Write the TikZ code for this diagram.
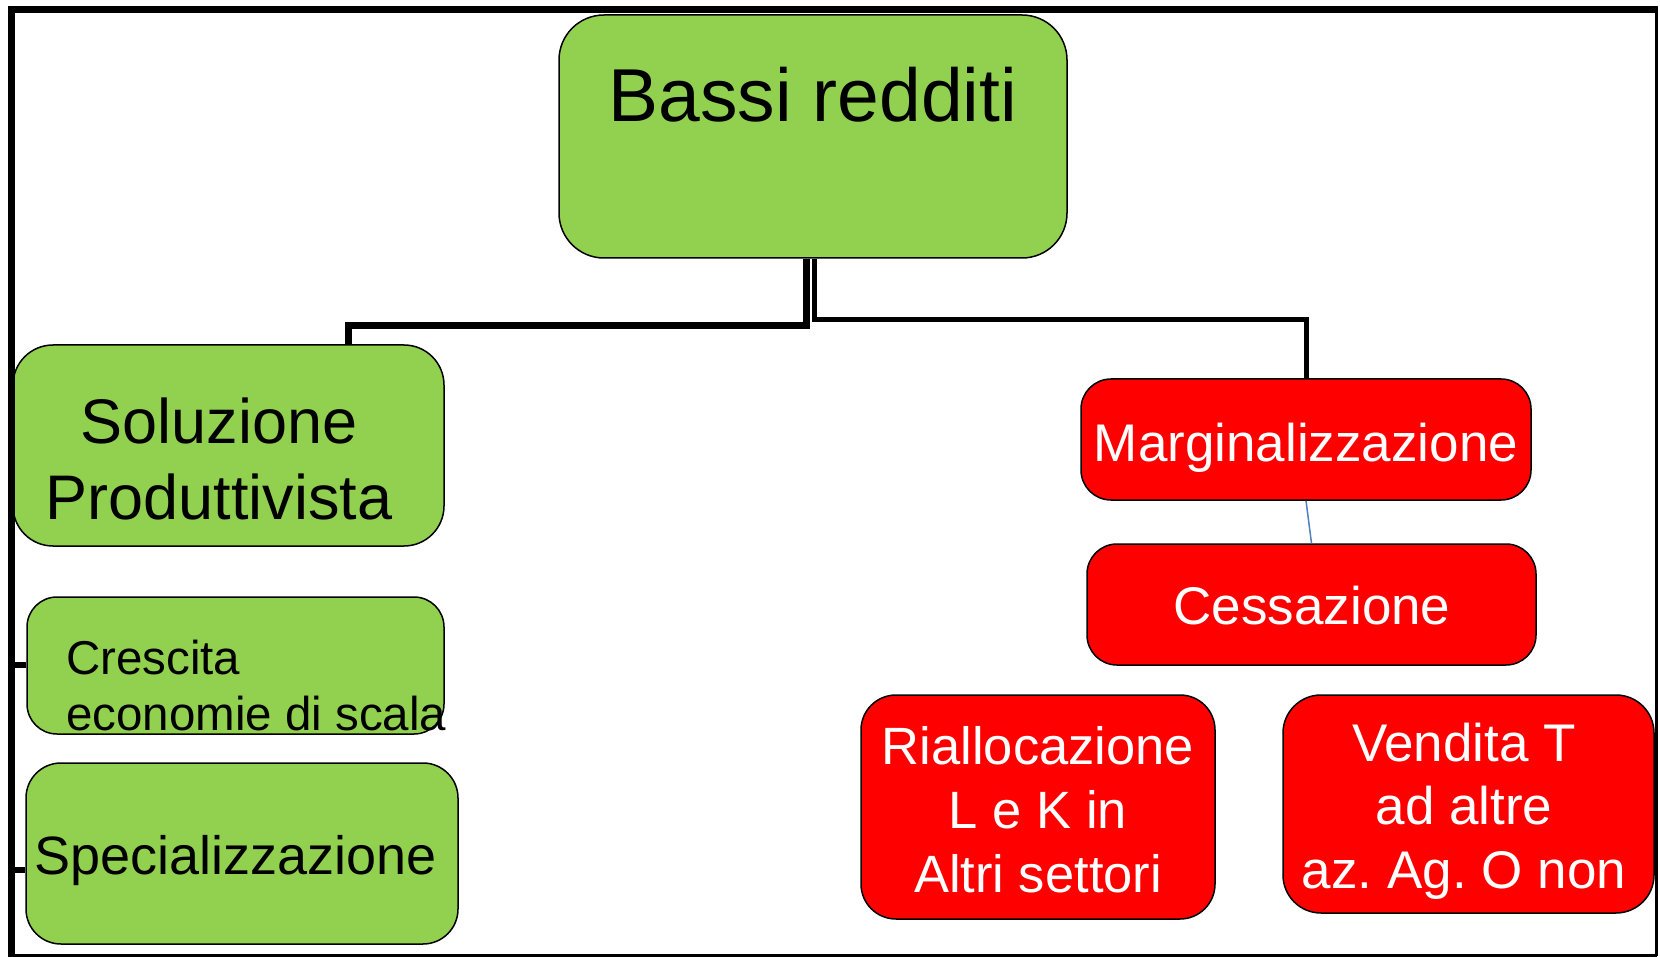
\documentclass[tikz,border=0pt]{standalone}
\usepackage{fontspec}
\setmainfont{Liberation Sans}
\frenchspacing
\definecolor{boxgreen}{HTML}{92D050}
\definecolor{boxred}{HTML}{FF0000}
\definecolor{linkblue}{HTML}{4F81BD}
\begin{document}
\begin{tikzpicture}[x=1pt,y=-1pt,
  gbox/.style={draw=black, line width=1.5pt, fill=boxgreen, rounded corners=#1, inner sep=0pt},
  rbox/.style={draw=black, line width=1.5pt, fill=boxred, rounded corners=#1, inner sep=0pt},
  txt/.style={inner sep=0pt, anchor=base, align=center},
  conn/.style={draw=black, line width=#1, line cap=butt},
  frameline/.style={draw=black, line width=#1}
]
\useasboundingbox (0,0) rectangle (1660,957);
\fill[white] (0,0) rectangle (1660,957);

% boxes
\node[gbox=45pt, minimum width=508pt, minimum height=243pt] (bassi) at (813,136.5) {};
\node[gbox=40pt, minimum width=431pt, minimum height=201pt] (soluz) at (228.5,445.5) {};
\node[gbox=30pt, minimum width=417pt, minimum height=137pt] (cresc) at (235.5,665.5) {};
\node[gbox=35pt, minimum width=432pt, minimum height=181pt] (spec) at (242,853.5) {};
\node[rbox=30pt, minimum width=450pt, minimum height=121pt] (marg) at (1306,439.5) {};
\node[rbox=30pt, minimum width=449pt, minimum height=121pt] (cess) at (1311.5,604.5) {};
\node[rbox=35pt, minimum width=354pt, minimum height=224pt] (riall) at (1038,807) {};
\node[rbox=38pt, minimum width=371pt, minimum height=218pt] (vend) at (1468.5,804) {};

% texts (multi-line nodes: base = baseline of last line)
\node[txt, font=\fontsize{75}{90}\selectfont] (bassi-t) at (813,122) {Bassi redditi};
\node[txt, font=\fontsize{63}{76}\selectfont] (soluz-t) at (219,519) {Soluzione\\Produttivista};
\node[txt, align=left, anchor=base west, font=\fontsize{47.5}{56}\selectfont] (cresc-t) at (66,730) {Crescita\\economie di scala};
\node[txt, font=\fontsize{54}{64}\selectfont] (spec-t) at (236,874) {Specializzazione};
\node[txt, text=white, font=\fontsize{53}{64}\selectfont] (marg-t) at (1306,461) {Marginalizzazione};
\node[txt, text=white, font=\fontsize{53}{64}\selectfont] (cess-t) at (1312,624) {Cessazione};
\node[txt, text=white, font=\fontsize{52.5}{64}\selectfont] (riall-t) at (1038,892) {Riallocazione\\L e K in\\Altri settori};
\node[txt, text=white, font=\fontsize{53}{63.5}\selectfont] (vend-t) at (1464,888) {Vendita T\\ad altre\\az. Ag. O non};

% frame
\coordinate (ftl) at (11.5,6);
\coordinate (ftr) at (1656.5,9.5);
\coordinate (fbl) at (11.5,957);
\coordinate (fbr) at (1656.5,955.5);
\coordinate (fbl2) at (11.5,955.5);
\coordinate (ftl2) at (8,9.5);
\coordinate (ftr2) at (1658,9.5);
\draw[frameline=7pt] (ftl2) -- (ftr2);
\draw[frameline=7pt] (ftl) -- (fbl);
\draw[frameline=3pt] (ftr) -- (fbr);
\draw[frameline=2.5pt] (fbl2) -- (fbr);

% connector anchors
\coordinate (ls) at (348,345);
\coordinate (s1) at (11.5,665);
\coordinate (s2) at (11.5,870);

% connectors
\draw[conn=7pt] ([xshift=-7pt]bassi.south) -- ++(0,67) -| (ls);
\draw[conn=5pt] ([xshift=1pt]bassi.south) -- ++(0,61) -| (marg.north);
\draw[linkblue, line width=1.5pt] (marg.south) -- (cess.north);
\draw[conn=6pt] (s1) -- (s1 -| cresc.west);
\draw[conn=6pt] (s2) -- (s2 -| spec.west);
\end{tikzpicture}
\end{document}
